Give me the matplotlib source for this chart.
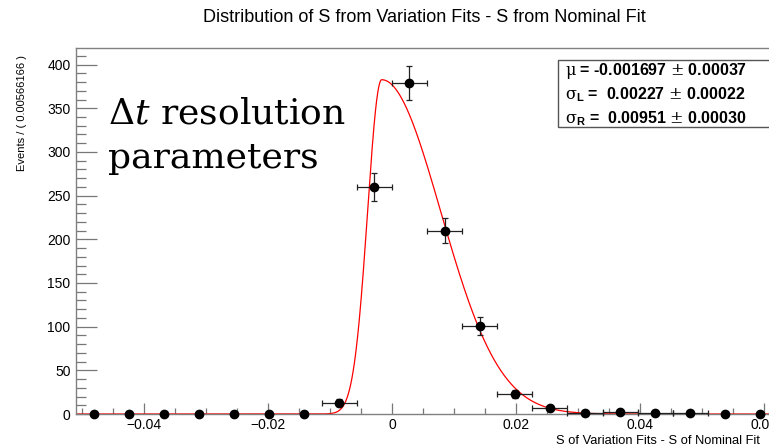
import numpy as np
import matplotlib
matplotlib.use("Agg")
import matplotlib.pyplot as plt
from matplotlib.ticker import MultipleLocator
from matplotlib.patches import Rectangle

# binned data
bin_width = 0.00566166
x_low = -0.0510
counts = [0, 0, 0, 0, 0, 0, 0, 13, 260, 379, 210, 101, 23, 7, 1, 2, 1, 1, 0, 0]

# fit result (bifurcated gaussian)
mu = -0.001697
sigma_l = 0.00227
sigma_r = 0.00951
stat_lines = [r"$\mathrm{\mu}$ = -0.001697 $\pm$ 0.00037",
              r"$\mathrm{\sigma}_{\mathbf{L}}$ =  0.00227 $\pm$ 0.00022",
              r"$\mathrm{\sigma}_{\mathbf{R}}$ =  0.00951 $\pm$ 0.00030"]

title = "Distribution of S from Variation Fits - S from Nominal Fit"
x_title = "S of Variation Fits - S of Nominal Fit"
y_title = "Events / ( 0.00566166 )"
x_ticks = [-0.04, -0.02, 0, 0.02, 0.04, 0.06]
x_ticklabels = ["\u22120.04", "\u22120.02", "0", "0.02", "0.04", "0.06"]
note_lines = ["$\\Delta t$ resolution", "parameters"]

sans = ["Liberation Sans Narrow", "Liberation Sans", "DejaVu Sans"]
plt.rcParams["font.family"] = sans
plt.rcParams["mathtext.fontset"] = "custom"
plt.rcParams["mathtext.rm"] = "DejaVu Serif"
plt.rcParams["mathtext.it"] = "DejaVu Serif:italic"
plt.rcParams["mathtext.bf"] = "Liberation Sans:bold"

W, H = 769, 448
fig = plt.figure(figsize=(W / 100, H / 100), dpi=100)
ax_w = 20 * bin_width * 6200
ax = fig.add_axes([76 / W, 34 / H, ax_w / W, 366 / H])

counts = np.array(counts, dtype=float)
edges = x_low + bin_width * np.arange(len(counts) + 1)
centers = 0.5 * (edges[:-1] + edges[1:])
x_max = edges[-1]

# fitted curve
total = counts.sum()
xs = np.linspace(x_low, x_max, 3000)
sig = np.where(xs < mu, sigma_l, sigma_r)
norm = total * bin_width * 2 / (np.sqrt(2 * np.pi) * (sigma_l + sigma_r))
ys = norm * np.exp(-0.5 * ((xs - mu) / sig) ** 2)
ax.plot(xs, ys, color="#ff0000", lw=0.9, zorder=2)

nz = counts > 0
ax.errorbar(centers[nz], counts[nz], yerr=np.sqrt(counts[nz]), xerr=bin_width / 2,
            fmt="o", color="black", ms=6, elinewidth=0.9, capsize=2, capthick=0.9,
            ecolor="#222222", zorder=3, clip_on=False)
ax.plot(centers[~nz], counts[~nz], "o", color="black", ms=6, zorder=3, clip_on=False)

ax.set_xlim(x_low, x_max)
ax.set_ylim(0, 419)
ax.set_xticks(x_ticks)
ax.set_xticklabels(x_ticklabels)
ax.xaxis.set_minor_locator(MultipleLocator(0.005))
ax.yaxis.set_major_locator(MultipleLocator(50))
ax.yaxis.set_minor_locator(MultipleLocator(10))
ax.tick_params(axis="both", which="both", direction="in", color="#777777", width=0.9,
               labelsize=10, top=False, right=False)
ax.tick_params(axis="x", which="major", length=8, pad=3)
ax.tick_params(axis="x", which="minor", length=4)
ax.tick_params(axis="y", which="major", length=15, pad=4)
ax.tick_params(axis="y", which="minor", length=7.5)
for s in ax.spines.values():
    s.set_color("#808080")
    s.set_linewidth(1.0)

fig.text(424 / W, 1 - 18 / H, title, ha="center", va="center", fontsize=13)
fig.text(760 / W, 1 - 441 / H, x_title, ha="right", va="center", fontsize=9.3)
fig.text(22 / W, 1 - 55 / H, y_title, ha="center", va="top", rotation=90, fontsize=8)

# stats box
fig.patches.append(Rectangle((558 / W, 1 - 127 / H), 240 / W, 67 / H, transform=fig.transFigure,
                             facecolor="white", edgecolor="#555555", lw=1.0, zorder=5))
for i, line in enumerate(stat_lines):
    fig.text(565 / W, 1 - (71 + 24 * i) / H, line, ha="left", va="center", fontsize=11.5,
             fontweight="bold", zorder=6)

for i, line in enumerate(note_lines):
    fig.text(108 / W, 1 - (123 + 45 * i) / H, line, ha="left", va="baseline",
             fontsize=26, family="DejaVu Serif")

fig.savefig("out.png", dpi=100)
